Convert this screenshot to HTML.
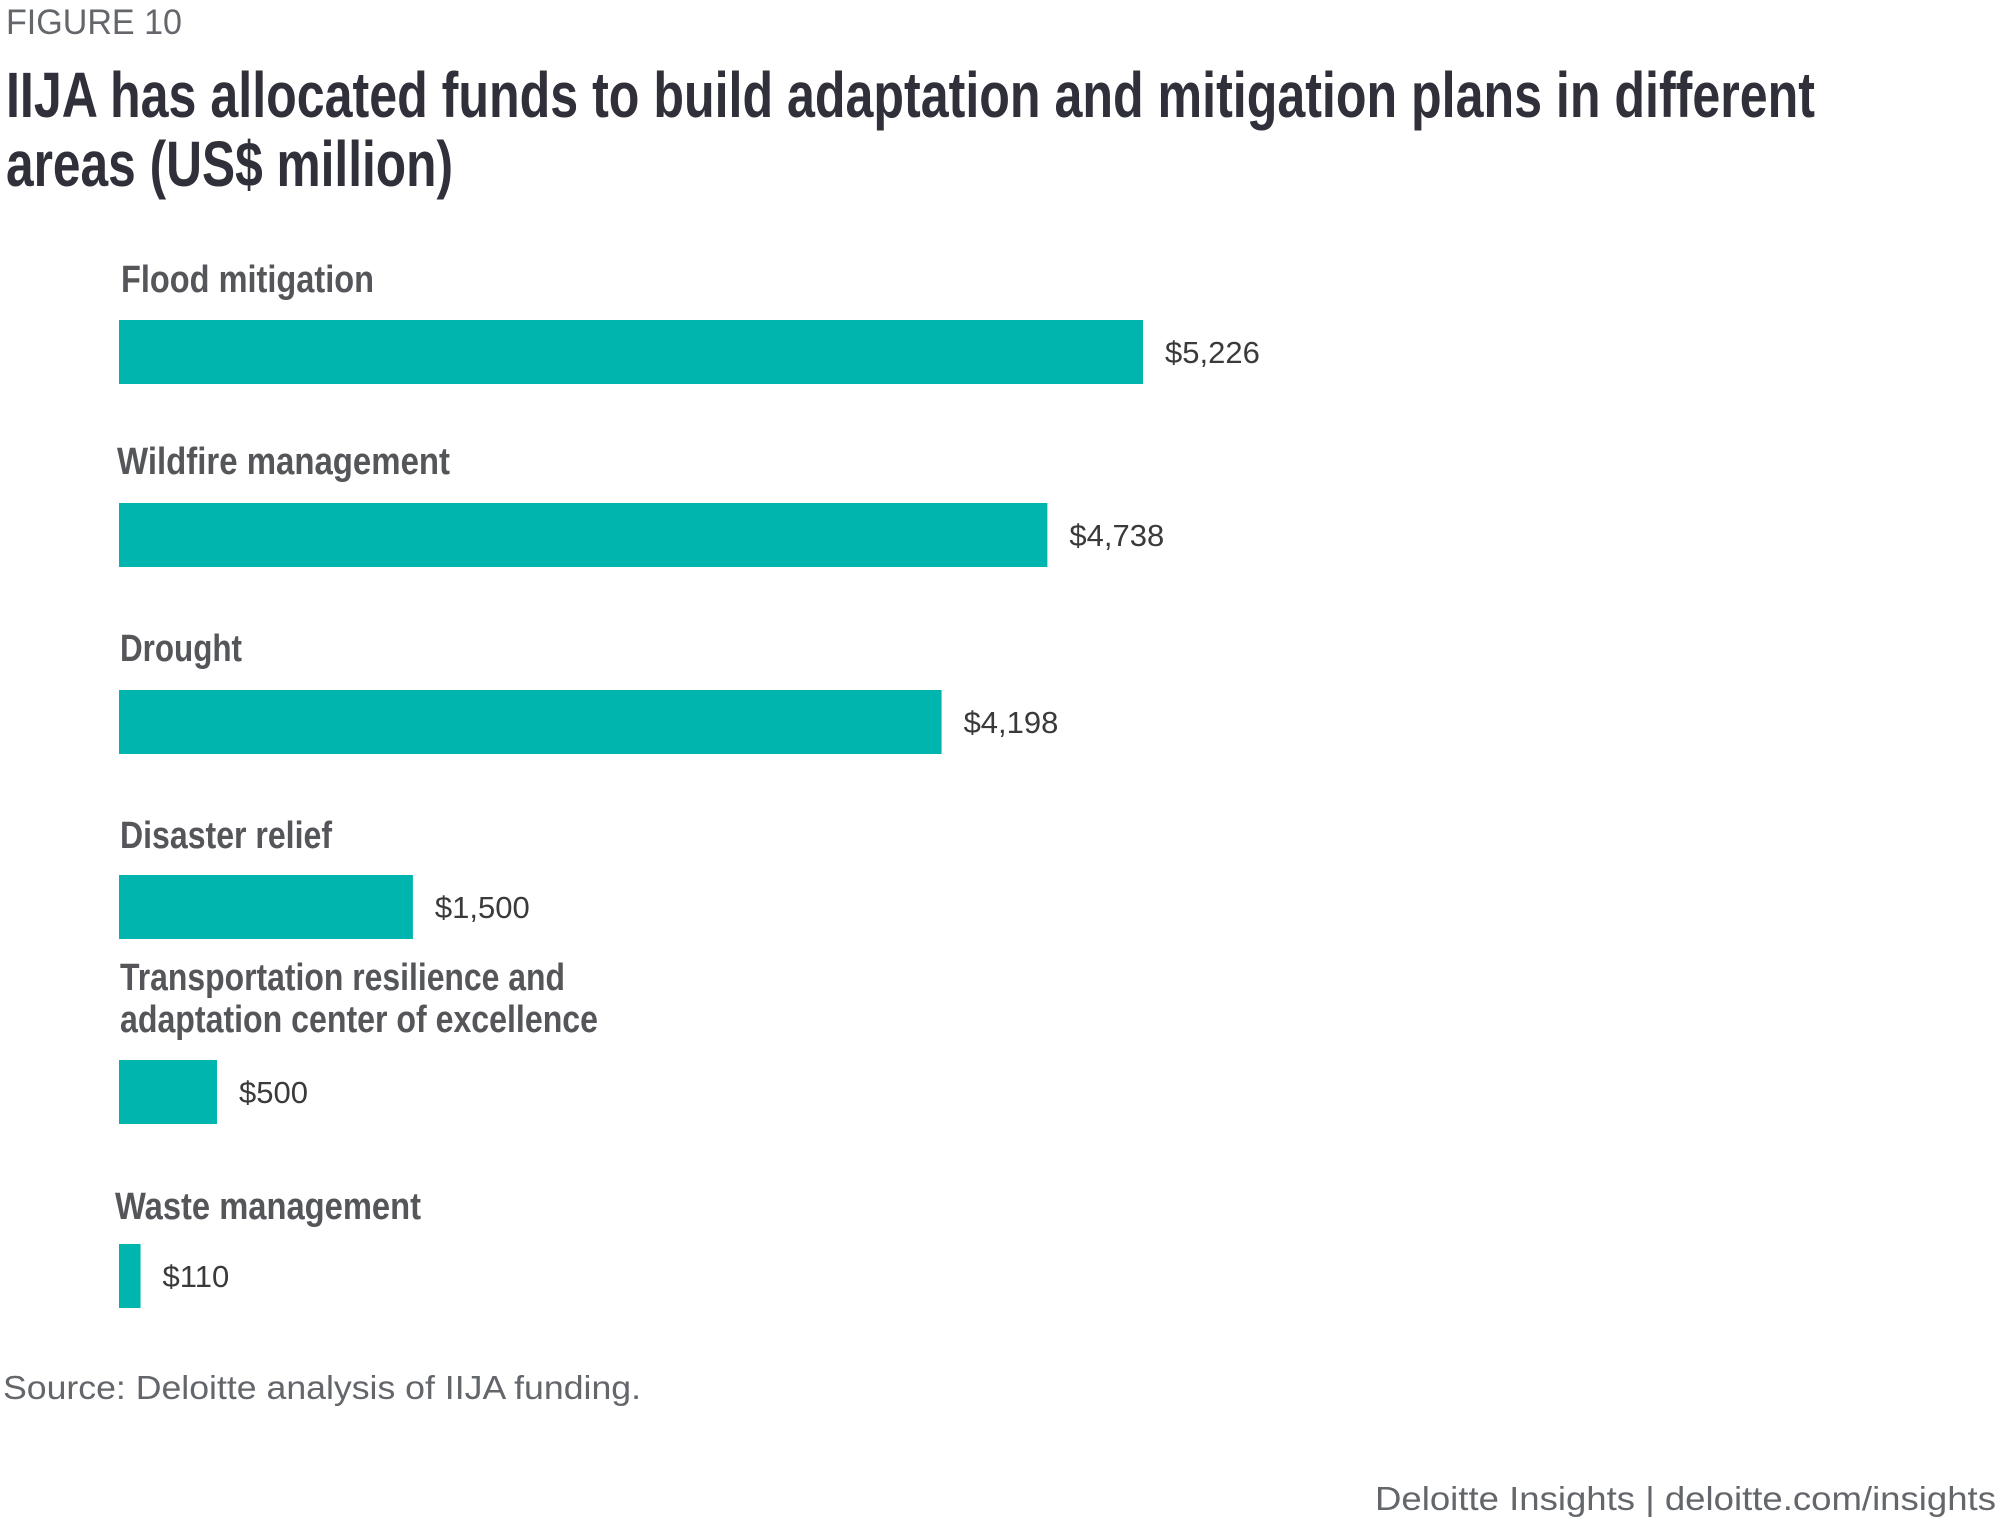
<!DOCTYPE html>
<html><head><meta charset="utf-8"><style>
html,body{margin:0;padding:0;background:#fff;}
svg{display:block;}
.lab{font-family:"Liberation Sans Narrow","Liberation Sans",sans-serif;font-weight:bold;font-size:38px;fill:#54565a;}
.val{font-family:"Liberation Sans",sans-serif;font-size:31px;fill:#3a3a3a;}
</style></head><body>
<svg id="chart" width="2000" height="1527" viewBox="0 0 2000 1527" xmlns="http://www.w3.org/2000/svg">
<text x="6" y="34" font-family="Liberation Sans, sans-serif" font-size="35" fill="#63666a" textLength="176" lengthAdjust="spacingAndGlyphs">FIGURE 10</text>
<text x="6" y="117" font-family="Liberation Sans Narrow, Liberation Sans, sans-serif" font-weight="bold" font-size="64" fill="#2f3039" textLength="1809" lengthAdjust="spacingAndGlyphs">IIJA has allocated funds to build adaptation and mitigation plans in different</text>
<text x="6" y="186" font-family="Liberation Sans Narrow, Liberation Sans, sans-serif" font-weight="bold" font-size="64" fill="#2f3039" textLength="447" lengthAdjust="spacingAndGlyphs">areas (US$ million)</text>

<text class="lab" x="121" y="292" textLength="253" lengthAdjust="spacingAndGlyphs">Flood mitigation</text>
<text class="lab" x="117" y="474" textLength="333" lengthAdjust="spacingAndGlyphs">Wildfire management</text>
<text class="lab" x="120" y="661" textLength="122" lengthAdjust="spacingAndGlyphs">Drought</text>
<text class="lab" x="120" y="848" textLength="212" lengthAdjust="spacingAndGlyphs">Disaster relief</text>
<text class="lab" x="120" y="990" textLength="445" lengthAdjust="spacingAndGlyphs">Transportation resilience and</text>
<text class="lab" x="120" y="1032" textLength="478" lengthAdjust="spacingAndGlyphs">adaptation center of excellence</text>
<text class="lab" x="115" y="1219" textLength="306" lengthAdjust="spacingAndGlyphs">Waste management</text>

<g id="bars"></g>

<text x="3" y="1399" font-family="Liberation Sans, sans-serif" font-size="33" fill="#63666a" textLength="638" lengthAdjust="spacingAndGlyphs">Source: Deloitte analysis of IIJA funding.</text>
<text x="1996" y="1510" text-anchor="end" font-family="Liberation Sans, sans-serif" font-size="33" fill="#63666a" textLength="621" lengthAdjust="spacingAndGlyphs">Deloitte Insights | deloitte.com/insights</text>
</svg>
<script>
const categories = ["Flood mitigation","Wildfire management","Drought","Disaster relief","Transportation resilience and adaptation center of excellence","Waste management"];
const values = [5226, 4738, 4198, 1500, 500, 110];
const valueLabels = ["$5,226","$4,738","$4,198","$1,500","$500","$110"];

const x0 = 119, pxPerUnit = 1024 / 5226;
const barTops = [320, 503, 690, 875, 1060, 1244];
const barH = 64;
function xScale(v){ return x0 + v * pxPerUnit; }
const g = document.getElementById('bars');
const NS = 'http://www.w3.org/2000/svg';
values.forEach((v, i) => {
  const r = document.createElementNS(NS, 'rect');
  
  
  r.setAttribute('x', x0);
  r.setAttribute('y', barTops[i]);
  r.setAttribute('width', xScale(v) - x0);
  r.setAttribute('height', barH);
  r.setAttribute('fill', '#00b5ae');
  g.appendChild(r);
  const t = document.createElementNS(NS, 'text');
  
  
  t.setAttribute('class', 'val');
  t.setAttribute('x', xScale(v) + 22);
  t.setAttribute('y', barTops[i] + barH/2 + 11);
  t.textContent = valueLabels[i];
  g.appendChild(t);
});
</script>
</body></html>
